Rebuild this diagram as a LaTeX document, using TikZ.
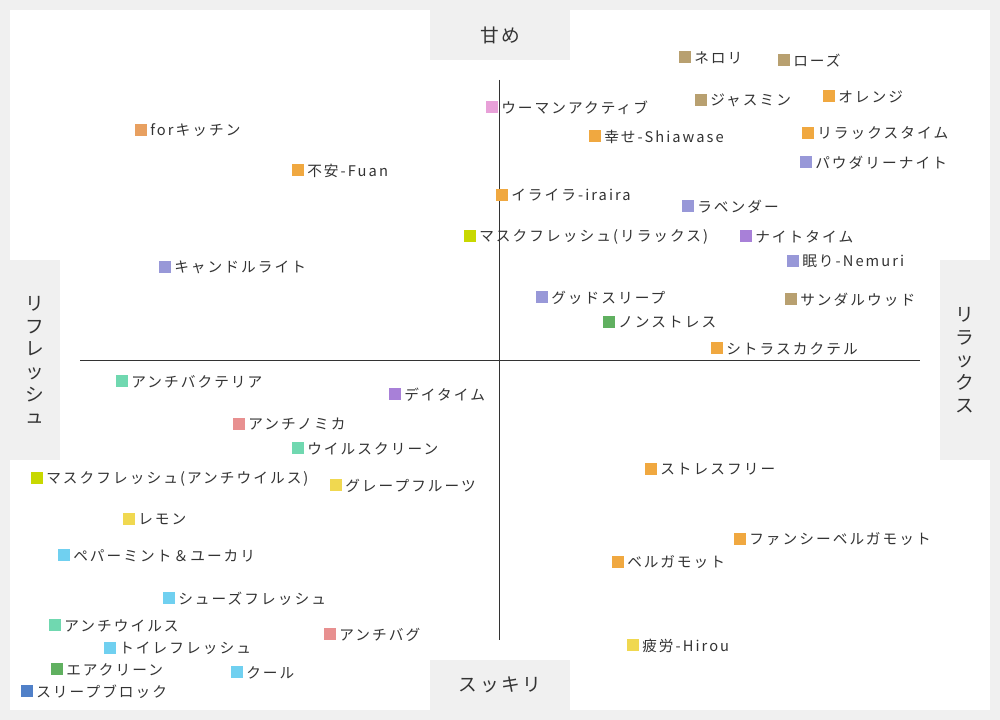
\documentclass[tikz,border=0pt]{standalone}
\usepackage{fontspec}
\setmainfont[LetterSpace=14]{Noto Sans CJK JP}
\definecolor{bggray}{HTML}{F0F0F0}
\definecolor{txt}{HTML}{333333}
\definecolor{ctan}{HTML}{B8A070}
\definecolor{corange}{HTML}{F0A840}
\definecolor{ckitchen}{HTML}{E8A060}
\definecolor{clav}{HTML}{9898D8}
\definecolor{cpurple}{HTML}{A880D8}
\definecolor{cpink}{HTML}{E8A0D8}
\definecolor{clime}{HTML}{C8D800}
\definecolor{cgreen}{HTML}{60B060}
\definecolor{cmint}{HTML}{70D8B0}
\definecolor{crose}{HTML}{E89090}
\definecolor{cyellow}{HTML}{F0D850}
\definecolor{csky}{HTML}{70D0F0}
\definecolor{cblue}{HTML}{5080C8}
\tikzset{
  mark box/.style={fill=#1, minimum size=9pt, inner sep=0pt},
  item label/.style={anchor=west, inner sep=0pt, text=txt, font=\fontsize{11}{13}\selectfont},
  axis label/.style={text=txt, font=\fontsize{14}{17}\selectfont, align=center}
}
\begin{document}
\begin{tikzpicture}[x=0.75pt, y=-0.75pt]
  % background and panel
  \fill[bggray] (0,0) rectangle (1000,720);
  \useasboundingbox (0,0) rectangle (1000,720);
  \fill[white] (10,10) rectangle (990,710);
  \fill[bggray] (430,10) rectangle (570,60);
  \fill[bggray] (430,660) rectangle (570,710);
  \fill[bggray] (10,260) rectangle (60,460);
  \fill[bggray] (940,260) rectangle (990,460);
  % axes
  \coordinate (top) at (499,80);
  \coordinate (bottom) at (499,640);
  \coordinate (left) at (80,360);
  \coordinate (right) at (920,360);
  \draw[txt, line width=0.6pt] (top) -- (bottom);
  \draw[txt, line width=0.6pt] (left) -- (right);
  \node[axis label] (sweet) at (500,35) {甘め};
  \node[axis label] (clear) at (500,685) {スッキリ};
  \node[axis label] (refresh) at (35,360) {リ\\フ\\レ\\ッ\\シ\\ュ};
  \node[axis label] (relax) at (965,360) {リ\\ラ\\ッ\\ク\\ス};
  % items (x/y/label/color)
  \foreach \x/\y/\desc/\col [count=\i] in {
    685/57/{ネロリ}/ctan,
    784/60/{ローズ}/ctan,
    829/96/{オレンジ}/corange,
    701/100/{ジャスミン}/ctan,
    492/107/{ウーマンアクティブ}/cpink,
    141/130/{forキッチン}/ckitchen,
    595/136/{幸せ-Shiawase}/corange,
    808/133/{リラックスタイム}/corange,
    806/162/{パウダリーナイト}/clav,
    298/170/{不安-Fuan}/corange,
    502/195/{イライラ-iraira}/corange,
    688/206/{ラベンダー}/clav,
    470/236/{マスクフレッシュ(リラックス)}/clime,
    746/236/{ナイトタイム}/cpurple,
    793/261/{眠り-Nemuri}/clav,
    165/267/{キャンドルライト}/clav,
    542/297/{グッドスリープ}/clav,
    791/299/{サンダルウッド}/ctan,
    609/322/{ノンストレス}/cgreen,
    717/348/{シトラスカクテル}/corange,
    122/381/{アンチバクテリア}/cmint,
    395/394/{デイタイム}/cpurple,
    239/424/{アンチノミカ}/crose,
    298/448/{ウイルスクリーン}/cmint,
    651/469/{ストレスフリー}/corange,
    37/478/{マスクフレッシュ(アンチウイルス)}/clime,
    336/485/{グレープフルーツ}/cyellow,
    129/519/{レモン}/cyellow,
    740/539/{ファンシーベルガモット}/corange,
    64/555/{ペパーミント＆ユーカリ}/csky,
    618/562/{ベルガモット}/corange,
    169/598/{シューズフレッシュ}/csky,
    55/625/{アンチウイルス}/cmint,
    330/634/{アンチバグ}/crose,
    110/648/{トイレフレッシュ}/csky,
    633/645/{疲労-Hirou}/cyellow,
    57/669/{エアクリーン}/cgreen,
    237/672/{クール}/csky,
    27/691/{スリープブロック}/cblue}
  {
    \node[mark box=\col] (m\i) at (\x,\y) {};
    \node[item label] (t\i) at (\x+9,\y+0.5) {\desc};
  }
\end{tikzpicture}
\end{document}
